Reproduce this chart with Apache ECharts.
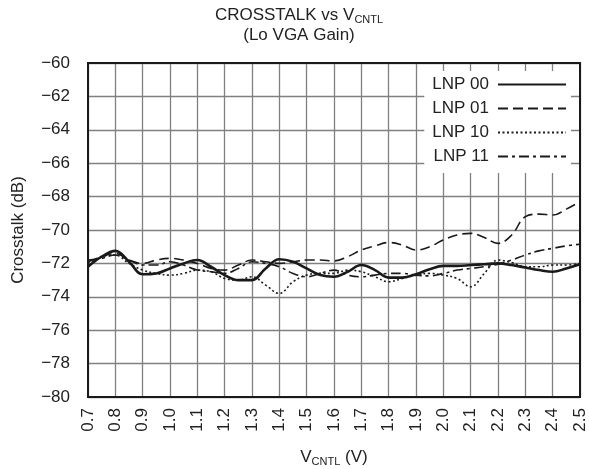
<!DOCTYPE html>
<html>
<head>
<meta charset="utf-8">
<script src="https://cdn.jsdelivr.net/npm/echarts@6/dist/echarts.min.js"></script>
<style>
  html, body { margin: 0; padding: 0; background: #fff; }
  #chart { width: 589px; height: 469px; }
</style>
</head>
<body>
<div id="chart"></div>
<script>
// Control voltage samples (V)
const vcntl = [0.70,0.75,0.80,0.85,0.90,0.95,1.00,1.05,1.10,1.15,1.20,1.25,1.30,1.35,1.40,1.45,1.50,1.55,1.60,1.65,1.70,1.75,1.80,1.85,1.90,1.95,2.00,2.05,2.10,2.15,2.20,2.25,2.30,2.35,2.40,2.45,2.50];

// Crosstalk (dB) per LNP setting
const lnp00 = [-72.2,-71.6,-71.25,-71.9,-72.65,-72.6,-72.3,-72.0,-71.8,-72.2,-72.7,-73.0,-73.0,-72.3,-71.75,-71.9,-72.3,-72.7,-72.8,-72.5,-72.1,-72.4,-72.85,-72.85,-72.65,-72.35,-72.15,-72.15,-72.1,-72.05,-72.0,-72.1,-72.25,-72.4,-72.5,-72.3,-72.05];
const lnp01 = [-71.9,-71.6,-71.4,-71.8,-72.0,-71.8,-71.7,-71.8,-72.0,-72.3,-72.4,-72.1,-71.8,-71.9,-72.0,-71.9,-71.8,-71.8,-71.85,-71.6,-71.2,-70.95,-70.75,-70.9,-71.2,-71.0,-70.6,-70.3,-70.2,-70.45,-70.8,-70.3,-69.2,-69.05,-69.1,-68.75,-68.3];
const lnp10 = [-72.0,-71.6,-71.5,-72.0,-72.4,-72.6,-72.7,-72.6,-72.4,-72.5,-72.9,-73.0,-72.8,-73.3,-73.8,-73.1,-72.7,-72.6,-72.6,-72.4,-72.5,-72.8,-73.1,-72.9,-72.7,-72.6,-72.7,-72.9,-73.4,-72.6,-71.8,-71.95,-72.2,-72.2,-72.1,-72.1,-72.0];
const lnp11 = [-71.8,-71.7,-71.5,-71.8,-72.1,-72.1,-71.9,-72.1,-72.4,-72.5,-72.6,-72.3,-71.9,-72.0,-72.2,-72.6,-72.8,-72.6,-72.4,-72.7,-72.8,-72.7,-72.6,-72.6,-72.7,-72.75,-72.6,-72.4,-72.3,-72.2,-72.05,-71.8,-71.5,-71.25,-71.1,-70.95,-70.85];

const seriesNames = ['LNP 00', 'LNP 01', 'LNP 10', 'LNP 11'];

const FONT = 'Liberation Sans, Arial, sans-serif';
const INK = '#1a1a1a';
const TXT = '#222';

function pairs(ys) { return vcntl.map((v, i) => [v, ys[i]]); }

function lineSeries(name, ys, width, type) {
  return {
    name: name,
    type: 'line',
    data: pairs(ys),
    smooth: 0.4,
    showSymbol: false,
    symbol: 'none',
    lineStyle: { color: INK, width: width, type: type },
    itemStyle: { color: INK },
    emphasis: { disabled: true },
    z: 3
  };
}

const chart = echarts.init(document.getElementById('chart'), null, { renderer: 'canvas' });

chart.setOption({
  animation: false,
  backgroundColor: '#fff',
  textStyle: { fontFamily: FONT },
  title: {
    text: '{t|CROSSTALK vs V}{s|CNTL}\n{t|(Lo VGA Gain)}',
    left: 294,
    textAlign: 'center',
    top: 0,
    textStyle: {
      fontWeight: 'normal',
      rich: {
        t: { fontFamily: FONT, fontSize: 17, color: TXT, lineHeight: 20 },
        s: { fontFamily: FONT, fontSize: 11, color: TXT, padding: [10, 0, 0, 0], lineHeight: 20 }
      }
    }
  },
  grid: { left: 88, top: 63, width: 492, height: 334, containLabel: false, outerBoundsMode: 'none' },
  legend: {
    data: seriesNames,
    right: 18,
    top: 71,
    orient: 'vertical',
    align: 'right',
    itemGap: 7,
    itemWidth: 68,
    itemHeight: 16,
    backgroundColor: '#fff',
    padding: [5, 4, 8, 8],
    itemStyle: { opacity: 0, borderWidth: 0 },
    textStyle: { fontFamily: FONT, fontSize: 17, color: TXT, width: 60, align: 'left', padding: [0, 4, 0, 0] },
    z: 4
  },
  xAxis: {
    type: 'value',
    min: 0.7,
    max: 2.5,
    interval: 0.1,
    name: '{t|V}{s|CNTL}{t| (V)}',
    nameLocation: 'middle',
    nameGap: 50,
    nameTextStyle: {
      rich: {
        t: { fontFamily: FONT, fontSize: 17, color: TXT },
        s: { fontFamily: FONT, fontSize: 11, color: TXT, padding: [9, 0, 0, 0] }
      }
    },
    axisLine: { show: true, onZero: false, lineStyle: { color: INK, width: 2 } },
    axisTick: { show: false },
    axisLabel: {
      rotate: 90,
      fontFamily: FONT,
      fontSize: 17,
      color: TXT,
      margin: 11,
      formatter: v => v.toFixed(1)
    },
    splitLine: { show: true, lineStyle: { color: '#808080', width: 1.3 } }
  },
  yAxis: {
    type: 'value',
    min: -80,
    max: -60,
    interval: 2,
    name: 'Crosstalk (dB)',
    nameLocation: 'middle',
    nameGap: 61,
    nameTextStyle: { fontFamily: FONT, fontSize: 17, color: TXT },
    axisLine: { show: true, onZero: false, lineStyle: { color: INK, width: 2 } },
    axisTick: { show: false },
    axisLabel: {
      fontFamily: FONT,
      fontSize: 17,
      color: TXT,
      margin: 18,
      formatter: v => String(v).replace('-', '\u2212')
    },
    splitLine: { show: true, lineStyle: { color: '#808080', width: 1.3 } }
  },
  graphic: [{
    type: 'rect',
    shape: { x: 88, y: 63, width: 492, height: 334 },
    style: { fill: 'none', stroke: INK, lineWidth: 2 },
    z: 10,
    silent: true
  }],
  series: [
    lineSeries(seriesNames[0], lnp00, 2.6, 'solid'),
    lineSeries(seriesNames[1], lnp01, 1.6, [10, 5]),
    lineSeries(seriesNames[2], lnp10, 1.6, [2, 2.5]),
    lineSeries(seriesNames[3], lnp11, 1.6, [10, 4, 3, 4])
  ]
});
</script>
</body>
</html>
